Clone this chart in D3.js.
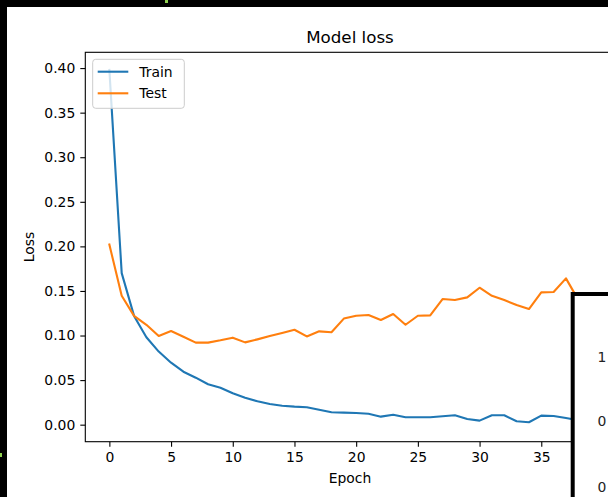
<!DOCTYPE html>
<html>
<head>
<meta charset="utf-8">
<script src="https://cdn.jsdelivr.net/npm/d3@7"></script>
<style>
  body { margin: 0; background: #000; }
  text { font-family: "DejaVu Sans", sans-serif; }
</style>
</head>
<body>
<script>
// Values.
const epochs = d3.range(40);
const trainLoss = [0.398, 0.170, 0.122, 0.098, 0.082, 0.0695, 0.0594, 0.0527, 0.0453, 0.0415,
  0.0352, 0.0303, 0.0262, 0.0232, 0.0213, 0.0202, 0.0195, 0.0168, 0.0139, 0.0135,
  0.0131, 0.0123, 0.0090, 0.0112, 0.0083, 0.0083, 0.0083, 0.0094, 0.0105, 0.0064,
  0.0045, 0.0105, 0.0105, 0.0038, 0.0027, 0.0101, 0.0098, 0.0075, 0.0050, 0.0048];
const testLoss = [0.202, 0.1446, 0.122, 0.112, 0.0994, 0.105, 0.0987, 0.092, 0.092, 0.0946,
  0.0976, 0.0923, 0.0957, 0.0994, 0.1028, 0.1065, 0.099, 0.1047, 0.1036, 0.119,
  0.1222, 0.123, 0.1174, 0.1241, 0.1121, 0.1222, 0.1226, 0.1409, 0.1398, 0.1428,
  0.1536, 0.1446, 0.1398, 0.1342, 0.1297, 0.1484, 0.1488, 0.1641, 0.140, 0.137];
const seriesNames = ["Train", "Test"];
const seriesColors = ["#1f77b4", "#ff7f0e"];
const xTicks = [0, 5, 10, 15, 20, 25, 30, 35];
const yTicks = [0, 0.05, 0.10, 0.15, 0.20, 0.25, 0.30, 0.35, 0.40];
const overlayLabels = ["1", "0", "0"];

const W = 608, H = 497;
const ax = { left: 85.3, right: 614.7, top: 52.3, bottom: 441.7 };

const svg = d3.select("body").append("svg")
  .attr("width", W).attr("height", H)
  .style("display", "block");

// Black screen edge around the figure.
svg.append("rect").attr("width", W).attr("height", H).attr("fill", "#000");
svg.append("rect").attr("x", 7).attr("y", 7).attr("width", W - 7).attr("height", H - 7)
  .attr("fill", "#fff");
svg.append("rect").attr("x", 165).attr("y", 0).attr("width", 3).attr("height", 3).attr("fill", "#8fd14f");
svg.append("rect").attr("x", 0).attr("y", 453).attr("width", 2).attr("height", 4).attr("fill", "#8fd14f");

const x = d3.scaleLinear().domain([-1.95, 40.95]).range([ax.left, ax.right]);
const y = d3.scaleLinear().domain([-0.0191, 0.4177]).range([ax.bottom, ax.top]);

// Axes
const xAxis = svg.append("g")
  .attr("transform", "translate(0," + ax.bottom + ")")
  .call(d3.axisBottom(x).tickValues(xTicks).tickFormat(d3.format("d")).tickSize(5).tickPadding(5));
const yAxis = svg.append("g")
  .attr("transform", "translate(" + ax.left + ",0)")
  .call(d3.axisLeft(y).tickValues(yTicks).tickFormat(d3.format(".2f")).tickSize(5).tickPadding(5));
[xAxis, yAxis].forEach(function(g) {
  g.select(".domain").remove();
  g.selectAll("line").attr("stroke", "#000").attr("stroke-width", 1.1);
  g.selectAll("text").attr("fill", "#000").style("font-size", "13.9px")
    .style("font-family", "'DejaVu Sans', sans-serif");
});

// Lines
const line = d3.line().x(function(d, i) { return x(epochs[i]); }).y(function(d) { return y(d); });
[trainLoss, testLoss].forEach(function(vals, k) {
  svg.append("path")
    .datum(vals)
    .attr("d", line)
    .attr("fill", "none")
    .attr("stroke", seriesColors[k])
    .attr("stroke-width", 2.1)
    .attr("stroke-linejoin", "round")
    .attr("stroke-linecap", "square");
});

// Frame
svg.append("rect")
  .attr("x", ax.left).attr("y", ax.top)
  .attr("width", ax.right - ax.left).attr("height", ax.bottom - ax.top)
  .attr("fill", "none").attr("stroke", "#000").attr("stroke-width", 1.1);

// Titles
svg.append("text").attr("x", (ax.left + ax.right) / 2).attr("y", 43)
  .attr("text-anchor", "middle").style("font-size", "16.7px").text("Model loss");
svg.append("text").attr("x", (ax.left + ax.right) / 2).attr("y", 483)
  .attr("text-anchor", "middle").style("font-size", "13.9px").text("Epoch");
svg.append("text")
  .attr("transform", "translate(33.5," + (ax.top + ax.bottom) / 2 + ") rotate(-90)")
  .attr("text-anchor", "middle").style("font-size", "13.9px").text("Loss");

// Legend
const legend = svg.append("g");
legend.append("rect")
  .attr("x", 92.7).attr("y", 59.3).attr("width", 91.6).attr("height", 49)
  .attr("rx", 3).attr("fill", "#fff").attr("fill-opacity", 0.8)
  .attr("stroke", "#cccccc").attr("stroke-width", 1);
seriesNames.forEach(function(name, k) {
  const ly = 71.7 + k * 21.6;
  legend.append("line").attr("x1", 97.7).attr("x2", 128.3).attr("y1", ly).attr("y2", ly)
    .attr("stroke", seriesColors[k]).attr("stroke-width", 2.1);
  legend.append("text").attr("x", 139.3).attr("y", ly + 5)
    .style("font-size", "13.9px").text(name);
});

// Overlapping window in the bottom-right corner
svg.append("rect").attr("x", 572.7).attr("y", 294).attr("width", 60).attr("height", 240)
  .attr("fill", "#fff").attr("stroke", "#000").attr("stroke-width", 4);
overlayLabels.forEach(function(t, i) {
  svg.append("text").attr("x", 597.5).attr("y", [361.7, 426, 491.7][i])
    .style("font-size", "13.9px").attr("fill", "#222").text(t);
});
</script>
</body>
</html>
